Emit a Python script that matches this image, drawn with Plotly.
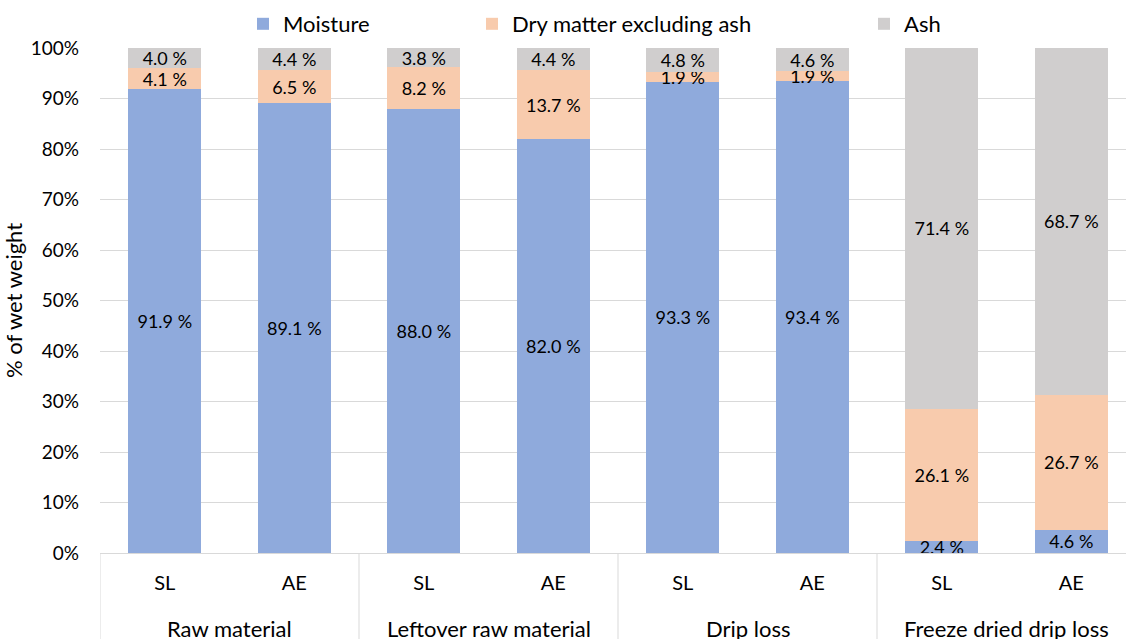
import plotly.graph_objects as go

groups = ["Raw material", "Leftover raw material", "Drip loss", "Freeze dried drip loss"]
subs = ["SL", "AE"]
sub_labels = [s for g in groups for s in subs]
positions = list(range(len(sub_labels)))

moisture = [91.9, 89.1, 88.0, 82.0, 93.3, 93.4, 2.4, 4.6]
dry_matter = [4.1, 6.5, 8.2, 13.7, 1.9, 1.9, 26.1, 26.7]
ash = [4.0, 4.4, 3.8, 4.4, 4.8, 4.6, 71.4, 68.7]

series = [
    ("Moisture", moisture, "#8FAADC", "legend"),
    ("Dry matter excluding ash", dry_matter, "#F8CBAD", "legend2"),
    ("Ash", ash, "#D0CECE", "legend3"),
]

FONT = "Lato"
fig = go.Figure()
for name, vals, color, lg in series:
    fig.add_trace(go.Bar(
        x=positions, y=vals, name=name, marker=dict(color=color, line=dict(width=0)),
        width=0.565, text=[f"{v:.1f} %" for v in vals], textposition="inside",
        insidetextanchor="middle", constraintext="none", textangle=0,
        insidetextfont=dict(family=FONT, size=18, color="#000000"),
        cliponaxis=False, legend=lg, hoverinfo="skip",
    ))

W, H = 1126, 639
ml, mt, mb = 100, 48, 86
slot = 129.5
x_end = -0.5 + (W - ml) / slot

shapes = []
n_per = len(subs)
for i in range(len(groups)):
    xb = i * n_per - 0.5
    shapes.append(dict(type="line", xref="x", yref="paper", x0=xb, x1=xb, y0=0, y1=-0.3,
                       line=dict(color="#D9D9D9", width=1)))

annotations = []
plot_h = H - mt - mb
for i, g in enumerate(groups):
    xc = i * n_per + (n_per - 1) / 2
    annotations.append(dict(text=g, x=xc, xref="x", y=-(628 - (H - mb)) / plot_h, yref="paper",
                            showarrow=False, yanchor="middle", xanchor="center",
                            font=dict(family=FONT, size=22, color="#000000")))

legend_common = dict(orientation="h", xref="container", yref="container", yanchor="middle",
                     xanchor="left", y=1 - 24 / H, bgcolor="rgba(0,0,0,0)",
                     font=dict(family=FONT, size=22, color="#000000"))
fig.update_layout(
    width=W, height=H,
    margin=dict(l=ml, r=0, t=mt, b=mb, autoexpand=False),
    barmode="stack", barnorm="percent",
    plot_bgcolor="white", paper_bgcolor="white",
    font=dict(family=FONT, size=20, color="#000000"),
    showlegend=True,
    legend=dict(legend_common, x=(263 - 20) / W),
    legend2=dict(legend_common, x=(492 - 20) / W),
    legend3=dict(legend_common, x=(884 - 20) / W),
    shapes=shapes, annotations=annotations,
    xaxis=dict(range=[-0.5, x_end], tickmode="array", tickvals=positions, ticktext=sub_labels,
               showgrid=False, zeroline=False, showline=True, linecolor="#D9D9D9", linewidth=1,
               ticks="", ticklabelstandoff=12,
               tickfont=dict(family=FONT, size=20, color="#000000")),
    yaxis=dict(range=[0, 100], dtick=10, ticksuffix="%", showgrid=True, gridcolor="#D9D9D9",
               gridwidth=1, zeroline=False, showline=False, ticks="", ticklabelstandoff=20,
               tickfont=dict(family=FONT, size=19, color="#000000"),
               title=dict(text="% of wet weight", font=dict(family=FONT, size=22, color="#000000"),
                          standoff=2)),
)

fig.write_html("out.html", config={"displayModeBar": False},
               post_script="document.body.style.margin='0px';")
